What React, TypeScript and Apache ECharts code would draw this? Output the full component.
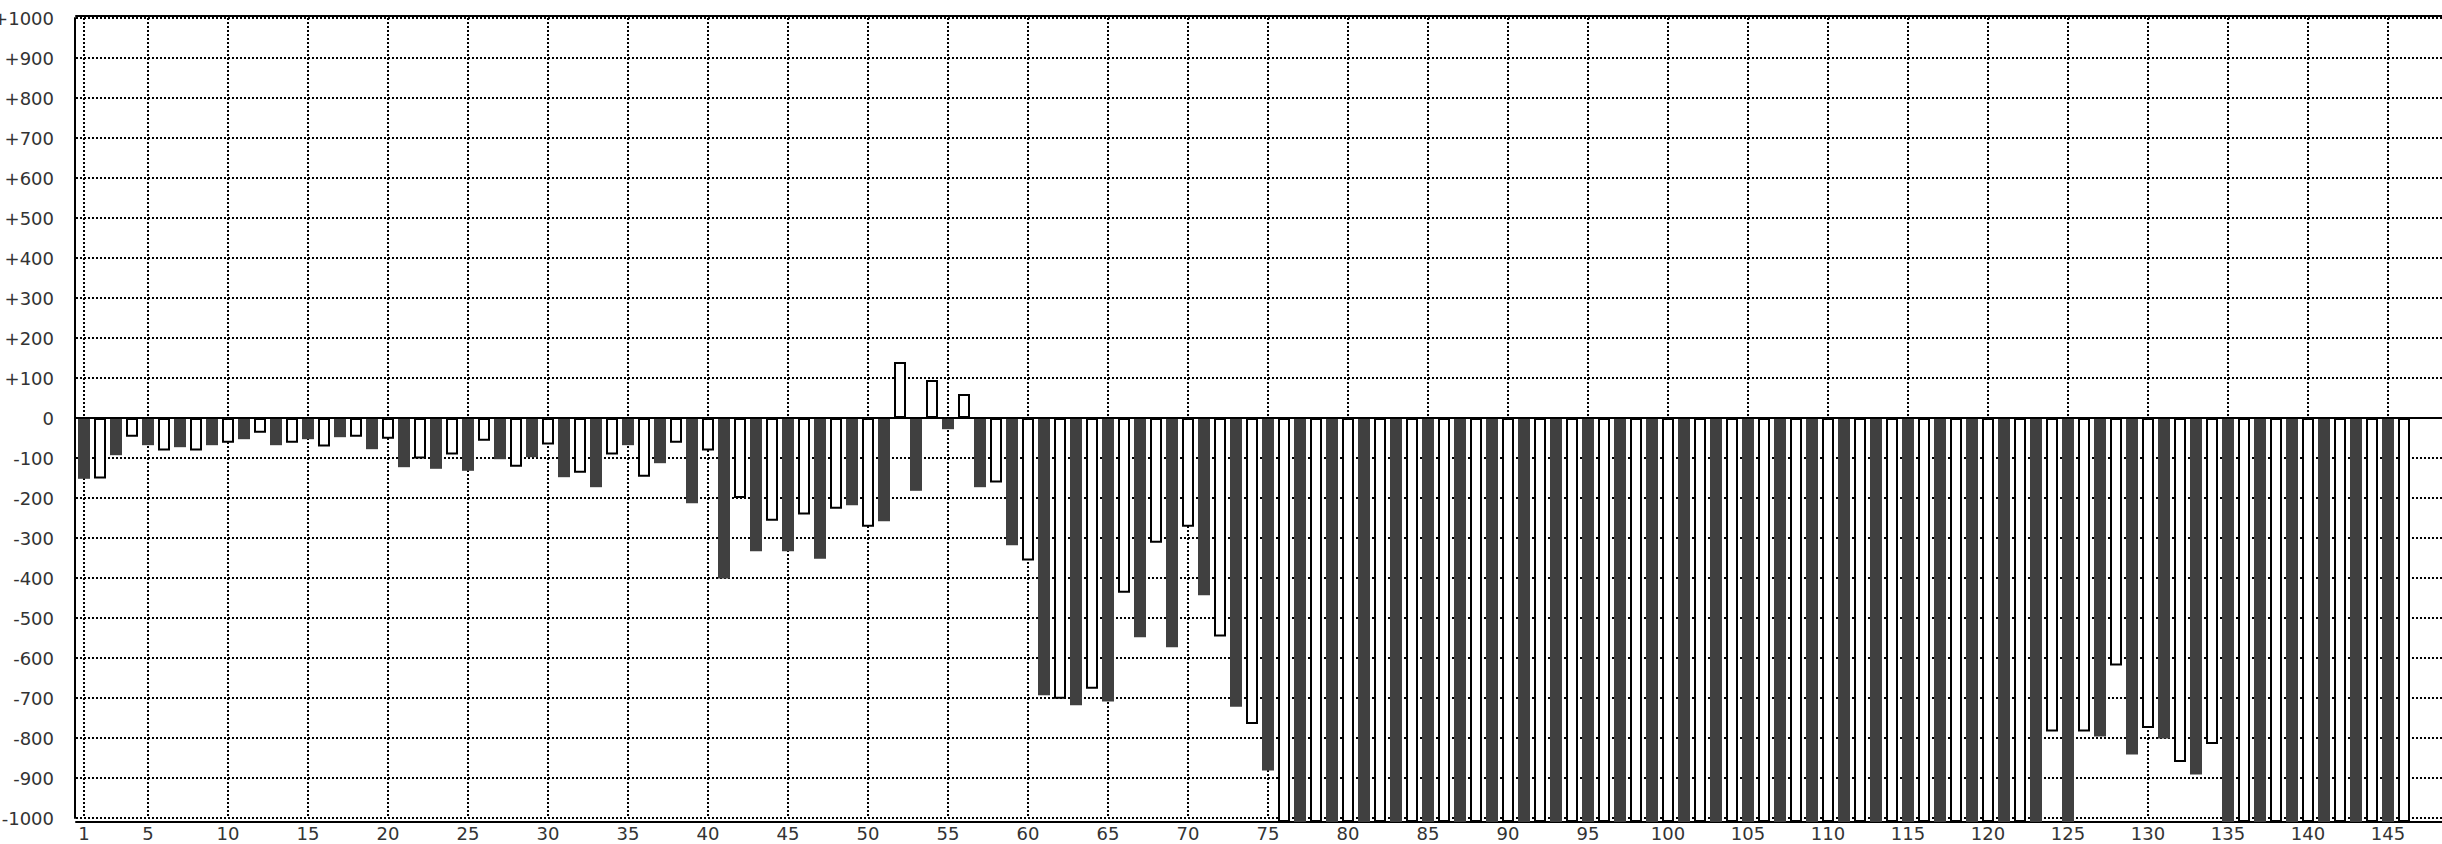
import React, { useEffect, useRef } from "react";
import * as echarts from "echarts";

// Category labels 1..148 (the axis runs past the right edge of the picture)
const categories: string[] = Array.from({ length: 148 }, (_, i) => String(i + 1));

// Bar values; bars that run off the bottom of the plot are read as -1010 (where they end, at the bottom rule)
const valuesA: number[] = [
  -152, -151, -93, -47, -68, -81, -73, -81, -68, -62,
  -53, -37, -68, -62, -53, -71, -48, -47, -78, -52,
  -123, -101, -127, -91, -132, -57, -103, -122, -98, -66,
  -148, -137, -173, -91, -68, -147, -113, -62, -213, -81,
  -401, -200, -333, -257, -333, -241, -352, -227, -218, -272,
];
const valuesB: number[] = [
  -258, 140, -182, 95, -28, 60, -173, -161, -318, -356,
  -693, -702, -718, -677, -709, -437, -548, -312, -573, -272,
  -443, -546, -722, -765, -881, -1010, -1010, -1010, -1010, -1010,
  -1010, -1010, -1010, -1010, -1010, -1010, -1010, -1010, -1010, -1010,
  -1010, -1010, -1010, -1010, -1010, -1010, -1010, -1010, -1010, -1010,
];
const valuesC: number[] = [
  -1010, -1010, -1010, -1010, -1010, -1010, -1010, -1010, -1010, -1010,
  -1010, -1010, -1010, -1010, -1010, -1010, -1010, -1010, -1010, -1010,
  -1010, -1010, -1010, -784, -1010, -784, -796, -619, -841, -775,
  -801, -860, -891, -815, -1010, -1010, -1010, -1010, -1010, -1010,
  -1010, -1010, -1010, -1010, -1010, -1010,
];
const values: number[] = [...valuesA, ...valuesB, ...valuesC];

const Y_MIN = -1000;
const Y_MAX = 1000;
const Y_STEP = 100;

export default function App() {
  const ref = useRef<HTMLDivElement>(null);

  useEffect(() => {
    if (!ref.current) return;
    const chart = echarts.init(ref.current, null, { renderer: "svg" });
    const shown = (i: number) => i === 0 || (i + 1) % 5 === 0;
    const font = "DejaVu Sans";
    const dark = { color: "#404040", borderWidth: 0 };
    const light = { color: "#ffffff", borderColor: "#000000", borderWidth: 2 };
    const data = values.map((v, i) => ({
      value: v,
      itemStyle: i % 2 === 0 ? dark : light,
    }));
    const dotted = { color: "#000", width: 2, type: [2, 2] as number[] };

    chart.setOption({
      animation: false,
      backgroundColor: "#ffffff",
      grid: {
        left: 76,
        top: 18,
        width: 2368,
        height: 800,
        show: false,
        containLabel: false,
        outerBoundsMode: "none",
      },
      xAxis: [
        {
          type: "category",
          data: categories,
          position: "bottom",
          offset: 4,
          axisLine: { onZero: false, lineStyle: { color: "#000", width: 2 } },
          axisTick: { show: false },
          axisLabel: {
            interval: shown,
            margin: 2,
            color: "#333",
            fontSize: 18,
            fontFamily: font,
          },
          splitLine: {
            show: true,
            interval: shown,
            alignWithLabel: true,
            lineStyle: dotted,
          },
        },
        {
          type: "category",
          data: categories,
          position: "top",
          offset: 2,
          axisLine: { onZero: false, lineStyle: { color: "#000", width: 2 } },
          axisTick: { show: false },
          axisLabel: { show: false },
          splitLine: { show: false },
        },
      ],
      yAxis: {
        type: "value",
        min: Y_MIN,
        max: Y_MAX,
        interval: Y_STEP,
        offset: 1,
        axisLine: { show: true, lineStyle: { color: "#000", width: 2 } },
        axisTick: { show: false },
        axisLabel: {
          margin: 21,
          color: "#333",
          fontSize: 18,
          fontFamily: font,
          formatter: (v: number) => (v > 0 ? "+" + v : String(v)),
        },
        splitLine: { show: true, lineStyle: dotted },
      },
      series: [
        {
          type: "bar",
          data,
          barWidth: 12,
          clip: false,
          markLine: {
            silent: true,
            symbol: ["none", "none"],
            label: { show: false },
            lineStyle: { color: "#000", width: 2, type: "solid" },
            data: [{ yAxis: 0 }],
          },
        },
      ],
    });
    return () => chart.dispose();
  }, []);

  return (
    <div
      ref={ref}
      style={{ position: "absolute", left: 0, top: 0, width: 2442, height: 844 }}
    />
  );
}
